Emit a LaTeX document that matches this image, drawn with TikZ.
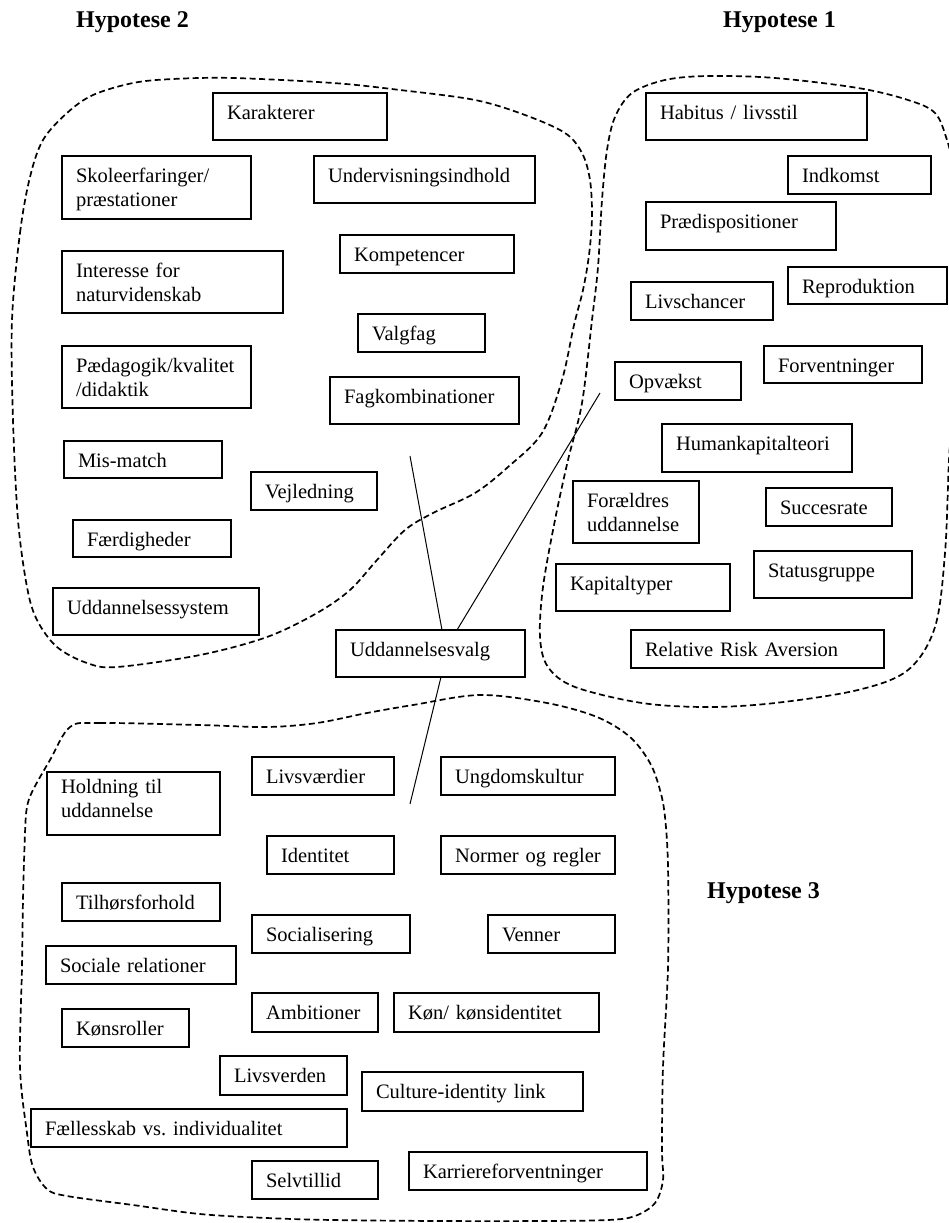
\documentclass[tikz,border=0pt]{standalone}
\usepackage{fontspec}
\setmainfont{Liberation Serif}
\hyphenpenalty=10000
\exhyphenpenalty=10000
\frenchspacing
\tikzset{
  box/.style={draw, line width=1.1pt, rectangle, anchor=north west, outer sep=0pt,
    inner xsep=14pt, inner ysep=0pt, align=left,
    font=\fontsize{20.5}{24}\selectfont},
  head/.style={anchor=base west, inner sep=0pt, font=\fontsize{24}{28}\selectfont\bfseries},
  hyp/.style={line width=1.7pt, dash pattern=on 6pt off 3.5pt},
  link/.style={line width=1pt}
}
\newcommand\bx[7][26]{%
  \pgfmathsetmacro\bxw{#5-#3}%
  \pgfmathsetmacro\bxt{#5-#3-28}%
  \pgfmathsetmacro\bxd{#6-#4-#1}%
  \node[box, minimum width=\bxw pt, text width=\bxt pt, text height=#1pt, text depth=\bxd pt] (#2) at (#3,#4) {#7};}
\begin{document}
\begin{tikzpicture}[x=1pt,y=-1pt]
\useasboundingbox (0,0) rectangle (949,1223);
\begin{scope}
\clip (0,0) rectangle (949,1223);
% Hypotese 2 outline
\draw[hyp] plot[smooth cycle, tension=0.55] coordinates {
 (12,320) (20,233) (30,177) (43,140) (67,113) (93,95) (133,83) (173,79) (233,78)
 (333,83) (400,90) (475,100) (525,115) (565,133) (582,153) (590,180) (592,217)
 (589,255) (583,290) (574,325) (562,380) (542,433) (508,467) (475,493) (433,513) (405,530)
 (377,560) (350,590) (317,613) (267,637) (200,655) (117,667) (87,663) (57,647)
 (37,620) (27,587) (18,520) (13,420)};
% Hypotese 1 outline (runs off the right edge)
\draw[hyp] plot[smooth, tension=0.55] coordinates {
 (953,400) (949,460) (945,553) (935,627) (908,670) (858,690) (775,703) (708,707)
 (642,703) (575,687) (548,667) (540,637) (543,587) (555,520) (568,460) (582,403)
 (592,320) (598,267) (602,200) (607,150) (615,117) (632,93) (665,80) (708,76)
 (775,78) (858,88) (908,100) (935,113) (947,140) (956,175)};
% Hypotese 3 outline
\draw[hyp] plot[smooth cycle, tension=0.55] coordinates {
 (70,727) (100,723) (200,725) (267,727) (317,723) (367,713) (413,705) (480,695)
 (547,703) (597,717) (630,737) (650,763) (660,790) (665,817) (668,867) (668,967)
 (663,1067) (662,1150) (663,1180) (655,1203) (635,1216) (608,1220) (542,1221)
 (440,1221) (333,1220) (267,1218) (200,1214) (133,1205) (67,1196) (47,1189)
 (33,1167) (27,1133) (20,1067) (22,967) (23,900) (25,833) (27,807) (33,790) (50,760)};
\end{scope}

\node[head] (h2) at (76,28) {Hypotese 2};
\node[head] (h1) at (723,28) {Hypotese 1};
\node[head] (h3) at (707,898) {Hypotese 3};

% Hypotese 2
\bx{kar}{213}{93}{387}{140}{Karakterer}
\bx{sko}{62}{156}{251}{219}{Skoleerfaringer/\\præstationer}
\bx{und}{314}{156}{535}{203}{Undervisningsindhold}
\bx{int}{62}{251}{283}{313}{Interesse for\\naturvidenskab}
\bx{kom}{340}{235}{514}{273}{Kompetencer}
\bx{val}{358}{314}{485}{352}{Valgfag}
\bx{paed}{62}{346}{251}{408}{Pædagogik/kvalitet\\/didaktik}
\bx{fag}{330}{377}{519}{424}{Fagkombinationer}
\bx{mis}{64}{441}{222}{478}{Mis-match}
\bx{vej}{251}{472}{377}{510}{Vejledning}
\bx{faer}{73}{520}{231}{557}{Færdigheder}
\bx{uds}{53}{588}{259}{635}{Uddannelsessystem}

% Hypotese 1
\bx{hab}{646}{93}{867}{140}{Habitus / livsstil}
\bx{ind}{788}{156}{931}{194}{Indkomst}
\bx{praed}{646}{202}{836}{250}{Prædispositioner}
\bx{rep}{788}{267}{947}{304}{Reproduktion}
\bx{livc}{631}{282}{773}{320}{Livschancer}
\bx{forv}{764}{346}{922}{383}{Forventninger}
\bx{opv}{615}{362}{741}{400}{Opvækst}
\bx{hum}{662}{424}{852}{472}{Humankapitalteori}
\bx{forae}{573}{481}{699}{543}{Forældres\\uddannelse}
\bx{suc}{766}{488}{892}{526}{Succesrate}
\bx{kap}{556}{564}{730}{611}{Kapitaltyper}
\bx{stat}{754}{551}{912}{598}{Statusgruppe}
\bx{rra}{631}{630}{884}{668}{Relative Risk Aversion}

% centre
\bx{uv}{336}{630}{525}{677}{Uddannelsesvalg}

% Hypotese 3
\bx[21]{hold}{47}{772}{220}{835}{Holdning til\\uddannelse}
\bx{lv}{252}{757}{394}{795}{Livsværdier}
\bx{ung}{441}{757}{615}{795}{Ungdomskultur}
\bx{idt}{267}{836}{394}{874}{Identitet}
\bx{norm}{441}{836}{615}{874}{Normer og regler}
\bx{tilh}{62}{883}{220}{921}{Tilhørsforhold}
\bx{soc}{252}{915}{410}{953}{Socialisering}
\bx{ven}{488}{915}{615}{953}{Venner}
\bx{srel}{46}{946}{236}{984}{Sociale relationer}
\bx{amb}{252}{993}{378}{1032}{Ambitioner}
\bx{kon}{394}{993}{599}{1032}{Køn/ kønsidentitet}
\bx{ksr}{62}{1009}{189}{1047}{Kønsroller}
\bx{lvd}{220}{1056}{347}{1095}{Livsverden}
\bx{cul}{362}{1072}{583}{1111}{Culture-identity link}
\bx{fael}{31}{1109}{347}{1147}{Fællesskab vs. individualitet}
\bx{selv}{252}{1161}{378}{1199}{Selvtillid}
\bx{karf}{409}{1152}{647}{1190}{Karriereforventninger}

% connectors
\coordinate (e2) at (410,456);
\coordinate (e1) at (600,393);
\coordinate (e3) at (410,804);
\draw[link] (uv.north west) ++(106,0) coordinate (s2) -- (e2);
\draw[link] (uv.north west) ++(121,0) coordinate (s1) -- (e1);
\draw[link] (uv.south west) ++(105,0) coordinate (s3) -- (e3);
\end{tikzpicture}
\end{document}
